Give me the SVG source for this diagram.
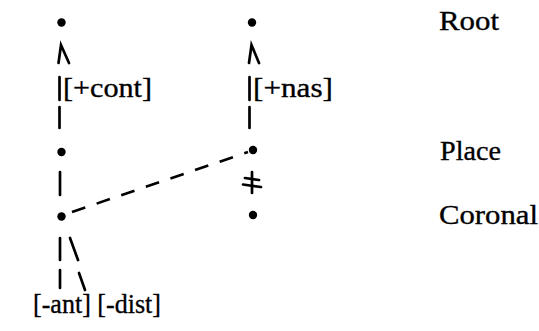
<svg xmlns="http://www.w3.org/2000/svg" width="539" height="331" viewBox="0 0 539 331">
<style>
.dot{fill:#000}
.ln{stroke:#000;stroke-width:2.7;fill:none;stroke-linecap:round}
.dash{stroke:#000;stroke-width:2.6;fill:none;stroke-dasharray:14 12}
text{font-family:"Liberation Serif","Times New Roman",serif;font-size:28px;fill:#000;stroke:#000;stroke-width:0.35}
</style>
<rect width="539" height="331" fill="#fff"/>
<g id="connectors">
<path class="ln" d="M58.5,63 L61,45 L69,63"/>
<path class="ln" d="M59.5,77 V100"/>
<path class="ln" d="M59.5,107 V128"/>
<path class="ln" d="M60,172 V195"/>
<path class="ln" d="M60,238 V260"/>
<path class="ln" d="M60,270 V288"/>
<path class="ln" d="M70,238 L78,260"/>
<path class="ln" d="M79,273 L85,290"/>
<path class="ln" d="M249,63 L251.5,45 L259,63"/>
<path class="ln" d="M249.5,77 V100"/>
<path class="ln" d="M249.5,107 V128"/>
<path class="dash" d="M72,212 L248,152"/>
<path class="ln" d="M252,172 V193"/>
<path class="ln" d="M245,178 L259,180"/>
<path class="ln" d="M243,184.5 L261,187"/>
</g>
<g id="root-left"><circle class="dot" cx="61.5" cy="22.5" r="4.2"/></g>
<g id="place-left"><circle class="dot" cx="61.5" cy="152" r="4.2"/></g>
<g id="coronal-left"><circle class="dot" cx="61.5" cy="216.5" r="4.2"/></g>
<g id="root-right"><circle class="dot" cx="252" cy="22.5" r="4.2"/></g>
<g id="place-right"><circle class="dot" cx="253" cy="150" r="4.2"/></g>
<g id="coronal-right"><circle class="dot" cx="253" cy="215" r="4.2"/></g>
<g id="feature-cont"><text x="63" y="97" textLength="89" lengthAdjust="spacingAndGlyphs">[+cont]</text></g>
<g id="feature-nas"><text x="253" y="97" textLength="80" lengthAdjust="spacingAndGlyphs">[+nas]</text></g>
<g id="feature-ant-dist"><text x="33" y="313" textLength="128" lengthAdjust="spacingAndGlyphs">[-ant] [-dist]</text></g>
<g id="label-root"><text x="439" y="30" textLength="60" lengthAdjust="spacingAndGlyphs">Root</text></g>
<g id="label-place"><text x="440" y="160" textLength="61" lengthAdjust="spacingAndGlyphs">Place</text></g>
<g id="label-coronal"><text x="439" y="224" textLength="99" lengthAdjust="spacingAndGlyphs">Coronal</text></g>
</svg>
